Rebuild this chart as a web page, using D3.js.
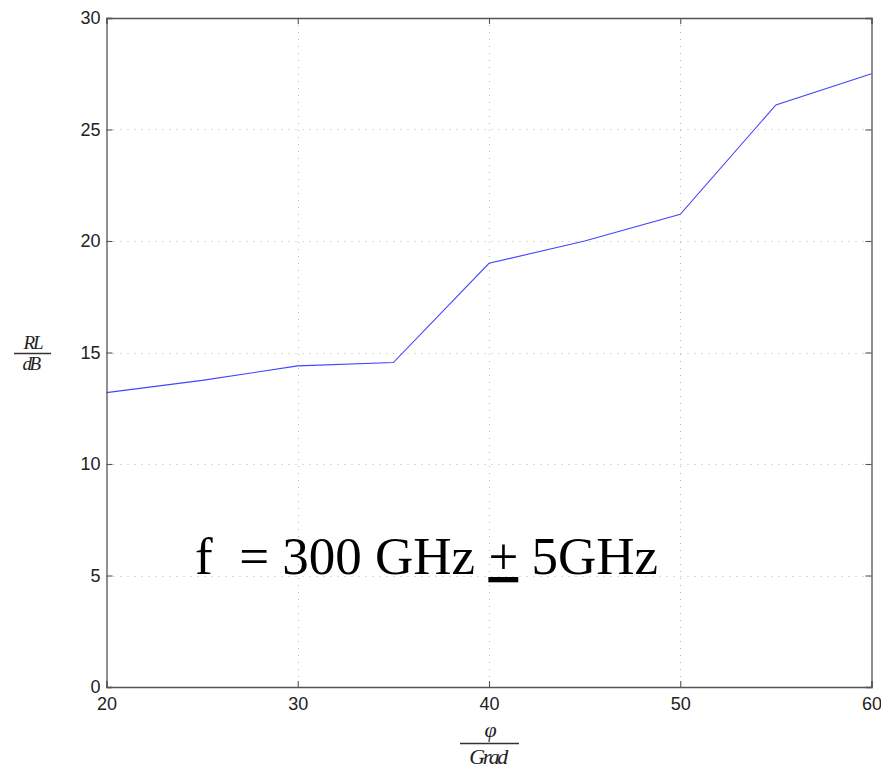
<!DOCTYPE html>
<html>
<head>
<meta charset="utf-8">
<script src="https://cdn.jsdelivr.net/npm/d3@7"></script>
<style>
  html, body { margin: 0; padding: 0; background: #fff; }
  svg { display: block; }
</style>
</head>
<body>
<svg id="chart" width="881" height="767"></svg>
<script>
// Return loss versus angle
const angles = [20, 25, 30, 35, 40, 45, 50, 55, 60];
const returnLoss = [13.2, 13.75, 14.4, 14.55, 19.0, 20.0, 21.2, 26.1, 27.5];
const xTicks = [20, 30, 40, 50, 60];
const yTicks = [0, 5, 10, 15, 20, 25, 30];
const annotationParts = ["f  = 300 GHz ", "+", " 5GHz"];

const svg = d3.select("#chart");
const plotLeft = 106.5, plotRight = 871.5, plotTop = 18, plotBottom = 687;

const x = d3.scaleLinear().domain([20, 60]).range([plotLeft, plotRight]);
const y = d3.scaleLinear().domain([0, 30]).range([plotBottom, plotTop]);

// dotted grid
const grid = svg.append("g").attr("stroke", "#b8b8b8").attr("stroke-width", 1)
  .attr("stroke-dasharray", "1,6");
grid.selectAll("line.vx").data(xTicks.slice(1, -1)).join("line")
  .attr("x1", d => Math.round(x(d)) + 0.5).attr("x2", d => Math.round(x(d)) + 0.5)
  .attr("y1", plotTop).attr("y2", plotBottom);
grid.selectAll("line.hy").data(yTicks.slice(1, -1)).join("line")
  .attr("y1", d => Math.round(y(d)) + 0.5).attr("y2", d => Math.round(y(d)) + 0.5)
  .attr("x1", plotLeft).attr("x2", plotRight);

// data line
const line = d3.line().x((d, i) => x(angles[i])).y(d => y(d));
svg.append("path").datum(returnLoss)
  .attr("d", line)
  .attr("fill", "none")
  .attr("stroke", "#4444ff")
  .attr("stroke-width", 1.1);

// axes (ticks pointing inward, box all round)
const axisFont = "'Liberation Sans', Arial, sans-serif";
const frame = "#555";
const xb = svg.append("g").attr("transform", `translate(0,${plotBottom})`)
  .call(d3.axisBottom(x).tickValues(xTicks).tickSize(-6).tickPadding(10).tickFormat(d3.format("d")));
const xt = svg.append("g").attr("transform", `translate(0,${plotTop})`)
  .call(d3.axisTop(x).tickValues(xTicks).tickSize(-6).tickFormat(""));
const yl = svg.append("g").attr("transform", `translate(${plotLeft},0)`)
  .call(d3.axisLeft(y).tickValues(yTicks).tickSize(-6).tickPadding(6).tickFormat(d3.format("d")));
const yr = svg.append("g").attr("transform", `translate(${plotRight},0)`)
  .call(d3.axisRight(y).tickValues(yTicks).tickSize(-6).tickFormat(""));
[xb, xt, yl, yr].forEach(g => {
  g.select(".domain").attr("stroke", frame).attr("stroke-width", 1.3);
  g.selectAll(".tick line").attr("stroke", frame).attr("stroke-width", 1.1);
  g.selectAll("text").attr("font-family", axisFont).attr("font-size", 18).attr("fill", "#222");
});

// axis labels as fractions
const serif = "'Liberation Serif', 'Times New Roman', serif";
function fraction(cx, cy, num, den, w, numBase, denBase, size) {
  const g = svg.append("g").attr("font-family", serif).attr("font-style", "italic")
    .attr("font-size", size).attr("fill", "#222").attr("text-anchor", "middle");
  g.append("text").attr("x", cx).attr("y", cy + numBase).attr("letter-spacing", -2).text(num);
  g.append("line").attr("x1", cx - w / 2).attr("x2", cx + w / 2)
    .attr("y1", cy).attr("y2", cy).attr("stroke", "#333").attr("stroke-width", 1.3);
  g.append("text").attr("x", cx - 2).attr("y", cy + denBase).attr("letter-spacing", -2.5).text(den);
}
fraction(32.5, 353.5, "RL", "dB", 37, -5, 16.5, 19);
fraction(489.5, 743.5, "φ", "Grad", 59, -7, 20, 22);

// annotation
const ann = svg.append("text")
  .attr("x", 195).attr("y", 574)
  .attr("font-family", serif).attr("font-size", 53).attr("fill", "#000")
  .style("white-space", "pre");
ann.selectAll("tspan").data(annotationParts).join("tspan")
  .attr("text-decoration", (d, i) => i === 1 ? "underline" : null)
  .text(d => d);
</script>
</body>
</html>
